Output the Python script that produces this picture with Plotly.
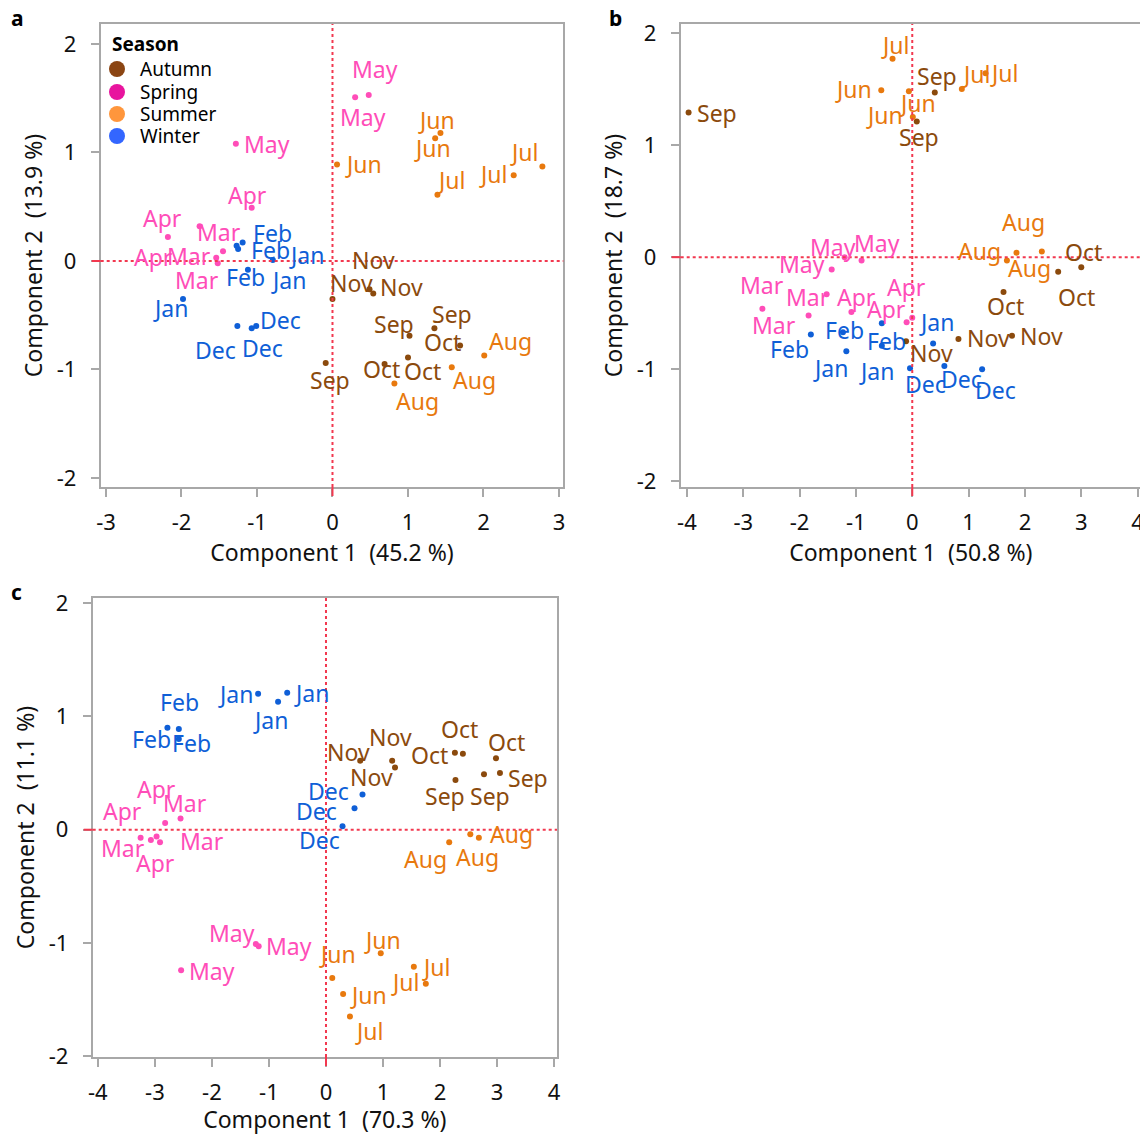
import plotly.graph_objects as go

# page body has an 8px margin; figure coordinates = screenshot coordinates - 8
PAD = 8
W, H = 1148 - PAD, 1135 - PAD

# ---------------- data ----------------
seasons_order = ["Autumn", "Spring", "Summer", "Winter"]
legend_colors = {"Autumn": "#8B4513", "Spring": "#E8149E", "Summer": "#FF963C", "Winter": "#3366FF"}
point_colors = {"Autumn": "#8B4A0D", "Spring": "#FF4DB8", "Summer": "#E8790E", "Winter": "#0F5FD7"}

# Panel a
months_a = ["May", "May", "May", "Apr", "Apr", "Apr", "Mar", "Mar", "Mar",
            "Feb", "Feb", "Feb", "Jan", "Jan", "Jan", "Dec", "Dec", "Dec",
            "Nov", "Nov", "Nov", "Sep", "Sep", "Sep", "Oct", "Oct", "Oct",
            "Aug", "Aug", "Aug", "Jun", "Jun", "Jun", "Jul", "Jul", "Jul"]
seasons_a = ["Spring"] * 9 + ["Winter"] * 9 + ["Autumn"] * 9 + ["Summer"] * 9
x_a = [0.30, 0.48, -1.28, -1.07, -2.18, -1.52, -1.76, -1.45, -1.54,
       -1.19, -1.25, -1.12, -0.79, -1.27, -1.98, -1.01, -1.26, -1.07,
       0.00, 0.49, 0.54, 1.02, 1.35, -0.09, 1.69, 1.00, 0.69,
       2.01, 1.58, 0.82, 0.06, 1.43, 1.36, 1.39, 2.40, 2.78]
y_a = [1.51, 1.53, 1.08, 0.49, 0.22, -0.02, 0.32, 0.09, 0.03,
       0.17, 0.11, -0.08, 0.01, 0.14, -0.35, -0.60, -0.60, -0.62,
       -0.35, -0.26, -0.30, -0.69, -0.62, -0.94, -0.78, -0.89, -0.95,
       -0.87, -0.98, -1.13, 0.89, 1.18, 1.13, 0.61, 0.79, 0.87]

# Panel b
months_b = ["May", "May", "May", "Mar", "Mar", "Mar", "Apr", "Apr", "Apr",
            "Feb", "Feb", "Feb", "Jan", "Jan", "Jan", "Dec", "Dec", "Dec",
            "Sep", "Sep", "Sep", "Oct", "Oct", "Oct", "Nov", "Nov", "Nov",
            "Jul", "Jul", "Jul", "Jun", "Jun", "Jun", "Aug", "Aug", "Aug"]
seasons_b = ["Spring"] * 9 + ["Winter"] * 9 + ["Autumn"] * 9 + ["Summer"] * 9
x_b = [-1.20, -0.90, -1.43, -2.66, -1.84, -1.52, -1.08, -0.10, 0.00,
       -1.80, -1.23, -0.54, -1.17, -0.54, 0.37, -0.04, 0.57, 1.24,
       -3.97, 0.40, 0.08, 2.59, 3.00, 1.62, 0.82, 1.77, -0.11,
       -0.35, 0.88, 1.30, -0.55, -0.06, 0.01, 1.85, 1.68, 2.30]
y_b = [0.00, -0.03, -0.11, -0.46, -0.52, -0.33, -0.49, -0.58, -0.54,
       -0.69, -0.67, -0.59, -0.84, -0.79, -0.77, -0.99, -0.97, -1.00,
       1.29, 1.47, 1.21, -0.13, -0.09, -0.31, -0.73, -0.70, -0.75,
       1.77, 1.50, 1.64, 1.49, 1.48, 1.25, 0.04, -0.03, 0.05]

# Panel c
months_c = ["Jan", "Jan", "Jan", "Feb", "Feb", "Feb", "Dec", "Dec", "Dec",
            "Apr", "Mar", "Apr", "Mar", "Mar", "Apr", "May", "May", "May",
            "Nov", "Nov", "Nov", "Oct", "Oct", "Oct", "Sep", "Sep", "Sep",
            "Aug", "Aug", "Aug", "Jun", "Jun", "Jun", "Jul", "Jul", "Jul"]
seasons_c = ["Winter"] * 9 + ["Spring"] * 9 + ["Autumn"] * 9 + ["Summer"] * 9
x_c = [-1.19, -0.68, -0.84, -2.78, -2.58, -2.58, 0.64, 0.50, 0.29,
       -2.82, -2.55, -3.07, -3.25, -2.91, -2.97, -1.18, -1.23, -2.54,
       0.60, 1.16, 1.21, 2.26, 2.40, 2.98, 2.27, 2.77, 3.05,
       2.16, 2.53, 2.68, 0.96, 0.11, 0.30, 1.54, 1.75, 0.42]
y_c = [1.20, 1.21, 1.13, 0.90, 0.89, 0.80, 0.31, 0.19, 0.03,
       0.06, 0.10, -0.09, -0.07, -0.11, -0.06, -1.03, -1.01, -1.24,
       0.61, 0.61, 0.55, 0.68, 0.67, 0.63, 0.44, 0.49, 0.50,
       -0.11, -0.04, -0.07, -1.09, -1.31, -1.45, -1.21, -1.36, -1.65]

# label offsets in pixels (dx, dy up)
off_a = [(8, -20), (6, 26), (31, 0), (-4, 13), (-5, 19), (-64, 6), (19, -6), (-34, -5), (-19, -22),
         (30, 10), (32, -1), (-2, -7), (34, 5), (52, -34), (-13, -9), (24, 6), (-22, -24), (11, -20),
         (19, 16), (4, 29), (28, 7), (-16, 12), (18, 14), (4, -17), (-18, 4), (15, -13), (-3, -5),
         (26, 14), (23, -13), (23, -17), (26, 0), (-4, 13), (-3, -10), (14, 15), (-21, 1), (-18, 15)]
off_b = [(-12, 10), (15, 18), (-30, 6), (0, 24), (-35, -10), (-19, -3), (5, 15), (-20, 13), (-6, 31),
         (-21, -14), (2, 2), (5, -18), (-16, -17), (-5, -25), (3, 22), (15, -16), (17, -13), (13, -21),
         (28, 0), (2, 16), (2, -15), (18, -25), (2, 15), (2, -14), (30, 1), (30, 0), (25, -12),
         (2, 14), (14, 15), (18, 0), (-28, 1), (9, -12), (-28, 2), (7, 31), (-27, 10), (-12, -16)]
off_c = [(-23, 0), (24, 0), (-8, -18), (-16, -11), (1, 27), (13, -4), (-34, 4), (-38, -3), (-23, -14),
         (-9, 34), (4, 15), (-28, 29), (-18, -10), (42, 1), (-1, -26), (30, 0), (-24, 11), (31, -1),
         (-12, 9), (-2, 24), (-24, -10), (-25, -2), (-3, 25), (11, 16), (-10, -16), (6, -22), (28, -5),
         (-24, -17), (7, -23), (33, 4), (2, 13), (5, 24), (25, -1), (22, 0), (-21, 2), (19, -14)]

x_titles = ["Component 1  (45.2 %)", "Component 1  (50.8 %)", "Component 1  (70.3 %)"]
y_titles = ["Component 2  (13.9 %)", "Component 2  (18.7 %)", "Component 2  (11.1 %)"]
panel_letters = ["a", "b", "c"]

# ---------------- layout constants (screenshot pixels) ----------------
FONT = "Noto Sans"
LBL = 23
TICK = 22
TITLE = 23
boxes = [(100.7, 563.3, 24, 487), (680.7, 1141, 24, 487), (92.7, 557, 598, 1057)]
xranges = [(-3.07, 3.057), (-4.11, 4.06), (-4.09, 4.05)]
yranges = [(-2.083, 2.184), (-2.05, 2.08), (-2.007, 2.046)]
xticks = [[-3, -2, -1, 0, 1, 2, 3], [-4, -3, -2, -1, 0, 1, 2, 3, 4], [-4, -3, -2, -1, 0, 1, 2, 3, 4]]
yticks = [[-2, -1, 0, 1, 2]] * 3
xtitle_standoff = [0, 0, 4]
letter_pos = [(15, 18), (613, 18), (15, 592)]


def px(v):
    return (v - PAD) / W


def py(v):
    return 1 - (v - PAD) / H


panels = [(months_a, seasons_a, x_a, y_a, off_a),
          (months_b, seasons_b, x_b, y_b, off_b),
          (months_c, seasons_c, x_c, y_c, off_c)]

fig = go.Figure()
annotations = []
shapes = []
RED = "#F2384F"
GRAY = "#A8A8A8"

for i, (months, seas, xs, ys, offs) in enumerate(panels):
    n = "" if i == 0 else str(i + 1)
    xa, ya = "x" + n, "y" + n
    for s in seasons_order:
        idx = [k for k in range(len(seas)) if seas[k] == s]
        fig.add_trace(go.Scatter(
            x=[xs[k] for k in idx], y=[ys[k] for k in idx], name=s,
            mode="markers", marker=dict(size=6, color=point_colors[s]),
            xaxis=xa, yaxis=ya, showlegend=False, hoverinfo="skip"))
        for k in idx:
            annotations.append(dict(
                x=xs[k], y=ys[k], xref=xa, yref=ya, text=months[k], showarrow=False,
                xshift=offs[k][0], yshift=offs[k][1],
                font=dict(family=FONT, size=LBL, color=point_colors[s])))
    l, r, t, b = boxes[i]
    axkey = "xaxis" + n
    aykey = "yaxis" + n
    common = dict(showgrid=False, zeroline=False, showline=True, linecolor=GRAY, linewidth=2,
                  mirror=True, ticks="outside", ticklen=8, tickwidth=2, tickcolor=GRAY,
                  automargin=False,
                  tickfont=dict(family=FONT, size=TICK, color="#111"))
    fig.layout[axkey] = dict(common, domain=[px(l), px(r)], range=list(xranges[i]),
                             tickvals=xticks[i], ticktext=[str(v) for v in xticks[i]], anchor=ya,
                             ticklabelstandoff=7,
                             title=dict(text=x_titles[i], font=dict(family=FONT, size=TITLE, color="#111"),
                                        standoff=xtitle_standoff[i]))
    fig.layout[aykey] = dict(common, domain=[py(b), py(t)], range=list(yranges[i]),
                             tickvals=yticks[i], ticktext=[str(v) for v in yticks[i]], anchor=xa,
                             ticklabelstandoff=10,
                             title=dict(text=y_titles[i], font=dict(family=FONT, size=TITLE, color="#111"),
                                        standoff=8))
    # zero reference lines
    shapes.append(dict(type="line", xref=xa, yref=ya + " domain", x0=0, x1=0, y0=0, y1=1,
                       line=dict(color=RED, width=2, dash="3px,3px")))
    shapes.append(dict(type="line", xref=xa + " domain", yref=ya, x0=0, x1=1, y0=0, y1=0,
                       line=dict(color=RED, width=2, dash="3px,3px")))
    # red ticks at zero
    hpx, wpx = b - t, r - l
    shapes.append(dict(type="line", xref=xa, yref=ya + " domain", x0=0, x1=0, y0=0, y1=-9 / hpx,
                       line=dict(color=RED, width=2)))
    shapes.append(dict(type="line", xref=xa + " domain", yref=ya, x0=0, x1=-9 / wpx, y0=0, y1=0,
                       line=dict(color=RED, width=2)))
    lx, ly = letter_pos[i]
    annotations.append(dict(x=px(lx - 6), y=py(ly), xref="paper", yref="paper",
                            text="<b>%s</b>" % panel_letters[i], xanchor="left", yanchor="middle",
                            showarrow=False, font=dict(family=FONT, size=21, color="#000")))

# legend (drawn in panel a, top-left)
leg_title_pos = (110, 44)
leg_rows_y = [69, 92, 114, 136]
leg_dot_x, leg_text_x, leg_r = 117, 138, 8
annotations.append(dict(x=px(leg_title_pos[0]), y=py(leg_title_pos[1]), xref="paper", yref="paper",
                        text="<b>Season</b>", showarrow=False, xanchor="left", yanchor="middle",
                        font=dict(family=FONT, size=19, color="#000")))
for s, yy in zip(seasons_order, leg_rows_y):
    shapes.append(dict(type="circle", xref="paper", yref="paper",
                       x0=px(leg_dot_x - leg_r), x1=px(leg_dot_x + leg_r),
                       y0=py(yy + leg_r), y1=py(yy - leg_r),
                       fillcolor=legend_colors[s], line=dict(width=0)))
    annotations.append(dict(x=px(leg_text_x), y=py(yy), xref="paper", yref="paper",
                            text=s, showarrow=False, xanchor="left", yanchor="middle",
                            font=dict(family=FONT, size=19, color="#000")))

fig.update_layout(
    width=W, height=H, margin=dict(l=0, r=0, t=0, b=0, autoexpand=False),
    plot_bgcolor="white", paper_bgcolor="white",
    font=dict(family=FONT, size=TICK, color="#111"),
    annotations=annotations, shapes=shapes, showlegend=False,
)

fig.write_html("out.html")
